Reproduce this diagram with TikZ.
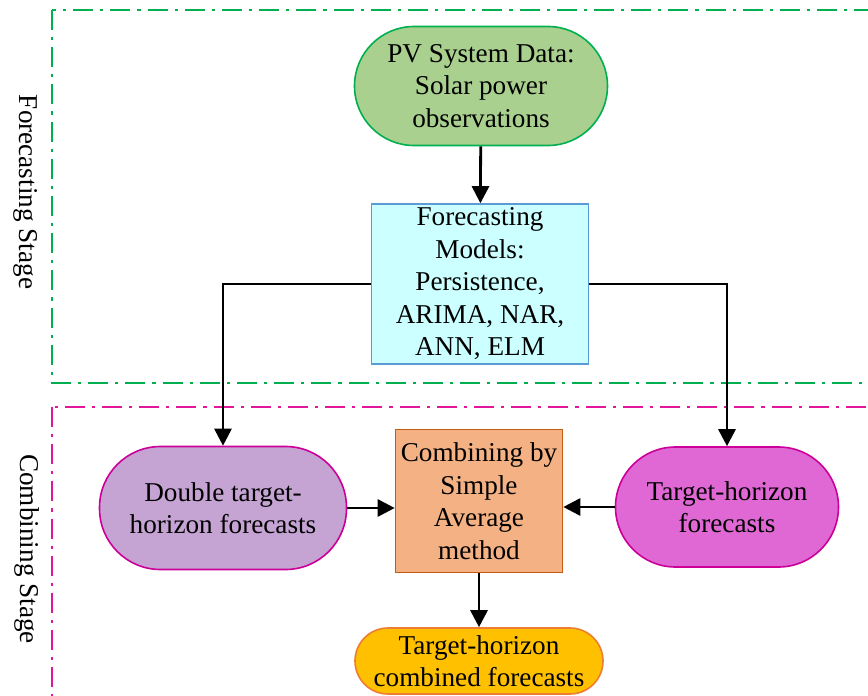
\documentclass[tikz,border=0pt]{standalone}
\usepackage{fontspec}
\setmainfont{Liberation Serif}
\usepackage{tikz}
\usetikzlibrary{arrows.meta,positioning}
\definecolor{stagegreen}{HTML}{00B050}
\definecolor{stagepink}{HTML}{E2169A}
\tikzset{
  every picture/.style = {
    x = 0.5pt,
    y = -0.5pt,
    >={Triangle[length=8.5pt,width=8.5pt]},
  }
  ,
  stage/.style = {
    line width = 0.9pt,
    dash pattern = on 10pt off 3.5pt on 1.6pt off 3.5pt
  }
  , % labels of stages
  label-stage/.style = {
    rotate = -90,
    font = \fontsize{13.6}{16}\selectfont
  }
  ,
  block/.style = {
    rectangle,
    draw,
    line width = 0.8pt,
    align = center,
    inner sep = 1pt,
    font = \fontsize{13.6}{16.25}\selectfont
  }
  , % stadium shaped blocks
  pill/.style = {
    block,
    rounded corners = #1
  }
  ,
  link/.style = {
    ->,
    line width = 1.4pt
  }
}

\begin{document}
\begin{tikzpicture}
    \useasboundingbox (0,0) rectangle (868,696);
    % stages
    \draw[stage, stagegreen] (52,10) rectangle (890,383);
    \draw[stage, stagepink] (52,407) rectangle (890,720);
    \node[label-stage] (fstage) at (26,192) {Forecasting Stage};
    \node[label-stage] (cstage) at (27,549) {Combining Stage};
    % blocks
    \node[pill=29.75pt, fill={rgb,255:red,169;green,208;blue,142}, draw=stagegreen,
      minimum width=126.5pt, minimum height=59.5pt] (pv) at (481,86)
      {PV System Data:\\Solar power\\observations};
    \node[block, fill={rgb,255:red,204;green,255;blue,255}, draw={rgb,255:red,91;green,155;blue,213},
      minimum width=108.5pt, minimum height=80pt] (fm) at (480,284)
      {Forecasting\\Models:\\Persistence,\\ARIMA, NAR,\\ANN, ELM};
    \node[pill=30.5pt, fill={rgb,255:red,197;green,163;blue,211}, draw={rgb,255:red,204;green,0;blue,153},
      minimum width=123.5pt, minimum height=61.5pt] (dbl) at (223,508)
      {Double target-\\horizon forecasts};
    \node[block, fill={rgb,255:red,244;green,177;blue,131}, draw={rgb,255:red,197;green,90;blue,17},
      minimum width=83.5pt, minimum height=71.5pt] (comb) at (479,501)
      {Combining by\\Simple\\Average\\method};
    \node[pill=30pt, fill={rgb,255:red,224;green,104;blue,212}, draw={rgb,255:red,204;green,0;blue,153},
      minimum width=111.5pt, minimum height=60pt] (tgt) at (727,507)
      {Target-horizon\\forecasts};
    \node[pill=16.5pt, fill={rgb,255:red,255;green,192;blue,0}, draw={rgb,255:red,237;green,125;blue,49},
      minimum width=124pt, minimum height=33pt] (fin) at (479,661)
      {Target-horizon\\combined forecasts};
    % connectors
    \draw[link] (pv) -- (fm);
    \draw[link] (fm.west) -| (dbl.north);
    \draw[link] (fm.east) -| (tgt.north);
    \draw[link] (dbl.east) -- (dbl.east -| comb.west);
    \draw[link] (tgt.west) -- (tgt.west -| comb.east);
    \draw[link] (comb) -- (fin);
\end{tikzpicture}
\end{document}
